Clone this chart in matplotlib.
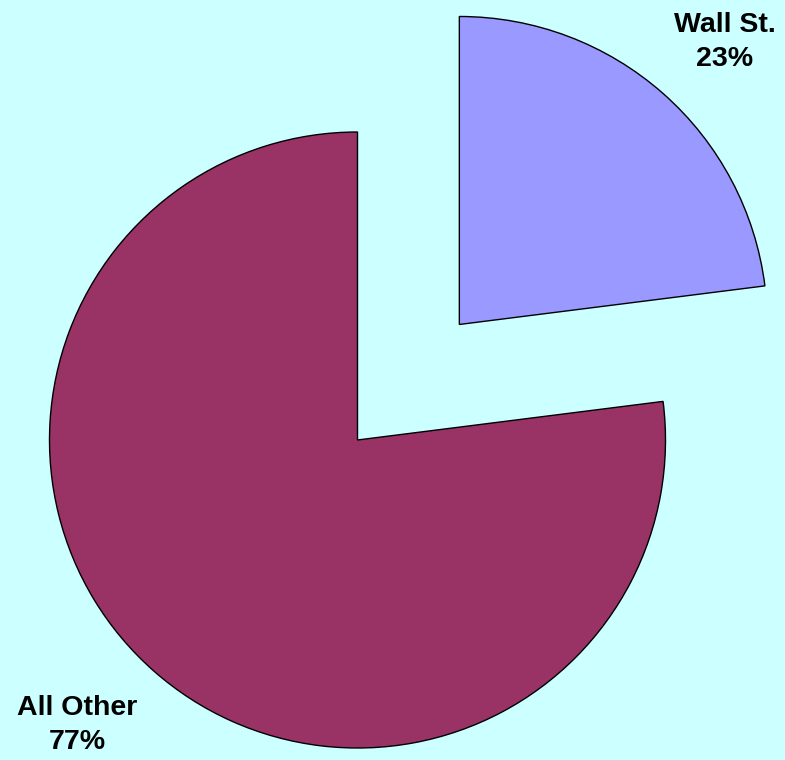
import matplotlib
matplotlib.use("Agg")
import matplotlib.pyplot as plt

categories = ["Wall St.", "All Other"]
values = [23, 77]
colors = ["#9999FF", "#993366"]
explode = [0.5, 0.0]

bg = "#CCFFFF"
fig = plt.figure(figsize=(7.85, 7.6), dpi=100, facecolor=bg)
ax = fig.add_axes([0, 0, 1, 1])
ax.set_facecolor(bg)

wedges, _ = ax.pie(values, colors=colors, explode=explode, startangle=90,
                   counterclock=False, radius=1.0,
                   wedgeprops=dict(edgecolor="black", linewidth=1.0))

s = 308.0
cx, cy = 357.5, 440.0
ax.set_xlim(-cx / s, (785 - cx) / s)
ax.set_ylim(-(760 - cy) / s, cy / s)
ax.set_aspect("equal")
ax.axis("off")

label_pos = [((725 - cx) / s, (cy - 42) / s), ((77 - cx) / s, (cy - 725) / s)]
for cat, v, (x, y) in zip(categories, values, label_pos):
    ax.text(x, y, f"{cat}\n{v}%", ha="center", va="center", fontsize=20.5,
            fontweight="bold", family=["Liberation Sans", "DejaVu Sans"],
            linespacing=1.4, color="black")

fig.savefig("out.png", dpi=100, facecolor=bg)
